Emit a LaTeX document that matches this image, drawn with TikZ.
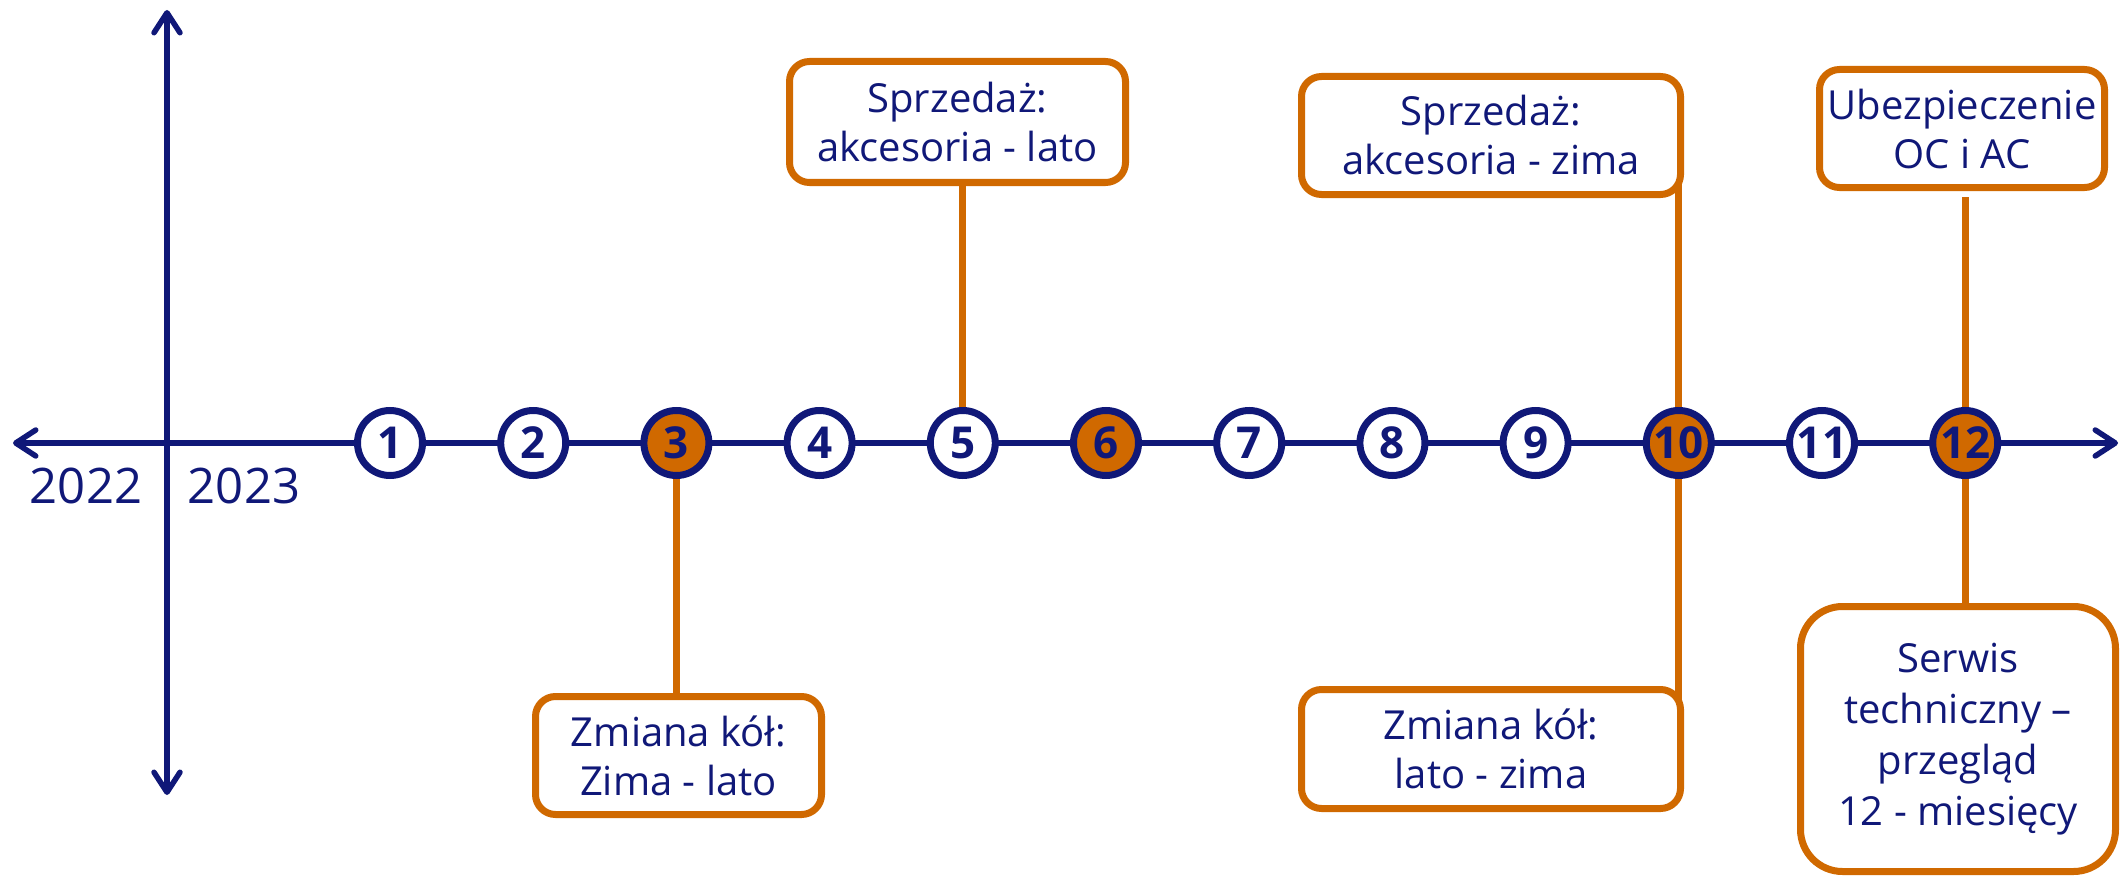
\documentclass[tikz,border=0pt]{standalone}
\usepackage{fontspec}
\setmainfont{Open Sans}
\usetikzlibrary{arrows.meta,backgrounds}
\definecolor{navy}{RGB}{16,24,120}
\definecolor{orng}{RGB}{208,105,0}
\begin{document}
\begin{tikzpicture}[x=1pt,y=-1pt,
  axis/.style={draw=navy,line width=5.5pt},
  barbs/.style={{Straight Barb[length=20pt,width=26pt,round]}-{Straight Barb[length=20pt,width=26pt,round]}},
  num/.style={circle,draw=navy,line width=7pt,minimum size=65pt,inner sep=0pt,
    font=\fontsize{44}{44}\selectfont\bfseries,text=navy,fill=white},
  hot/.style={num,fill=orng},
  box/.style={draw=orng,line width=7pt,rounded corners=20pt,fill=white,text=navy,
    align=center,inner sep=0pt,font=\fontsize{40}{49}\selectfont},
  bigbox/.style={box,rounded corners=42pt,font=\fontsize{40}{51}\selectfont},
  link/.style={draw=orng,line width=7pt},
  year/.style={text=navy,anchor=base,font=\fontsize{49}{49}\selectfont}
]
\useasboundingbox (0,0) rectangle (2121,880);
% axes
\coordinate (hL) at (13,443);
\coordinate (hR) at (2118,443);
\coordinate (vT) at (167,10);
\coordinate (vB) at (167,795);
\draw[axis,barbs] (hL) -- (hR);
\draw[axis,barbs] (vB) -- (vT);
\node[year] (y22) at (86,503) {2022};
\node[year] (y23) at (244,503) {2023};
% month circles
\foreach \i/\s in {1/num,2/num,3/hot,4/num,5/num,6/hot,7/num,8/num,9/num,10/hot,11/num,12/hot}
  \node[\s] (c\i) at ({390+(\i-1)*143.2},443) {\i};
% boxes
\node[box,minimum width=286pt,minimum height=118pt] (b3) at (678.5,755.5) {Zmiana kół:\\Zima - lato};
\node[box,minimum width=336pt,minimum height=121pt] (b5) at (957.5,122) {Sprzedaż:\\akcesoria - lato};
\node[box,minimum width=379pt,minimum height=118pt] (b10t) at (1491,135.5) {Sprzedaż:\\akcesoria - zima};
\node[box,minimum width=379pt,minimum height=119pt] (b10b) at (1491,749) {Zmiana kół:\\lato - zima};
\node[box,minimum width=285pt,minimum height=118pt] (b12t) at (1962,128.5) {Ubezpieczenie\\OC i AC};
\node[bigbox,minimum width=315pt,minimum height=265pt] (b12b) at (1958,739) {Serwis\\techniczny –\\przegląd\\12 - miesięcy};
% connectors
\begin{scope}[on background layer]
\draw[link] (c3.center) -- (c3 |- b3.north);
\draw[link] (c5.center) -- (c5 |- b5.south);
\draw[link] (c10.center) -- (c10 |- b10t.east);
\draw[link] (c10.center) -- (c10 |- b10b.east);
\draw[link,shorten >=6pt] (c12.center) -- (c12 |- b12t.south);
\draw[link] (c12.center) -- (c12 |- b12b.north);
\end{scope}
\end{tikzpicture}
\end{document}
